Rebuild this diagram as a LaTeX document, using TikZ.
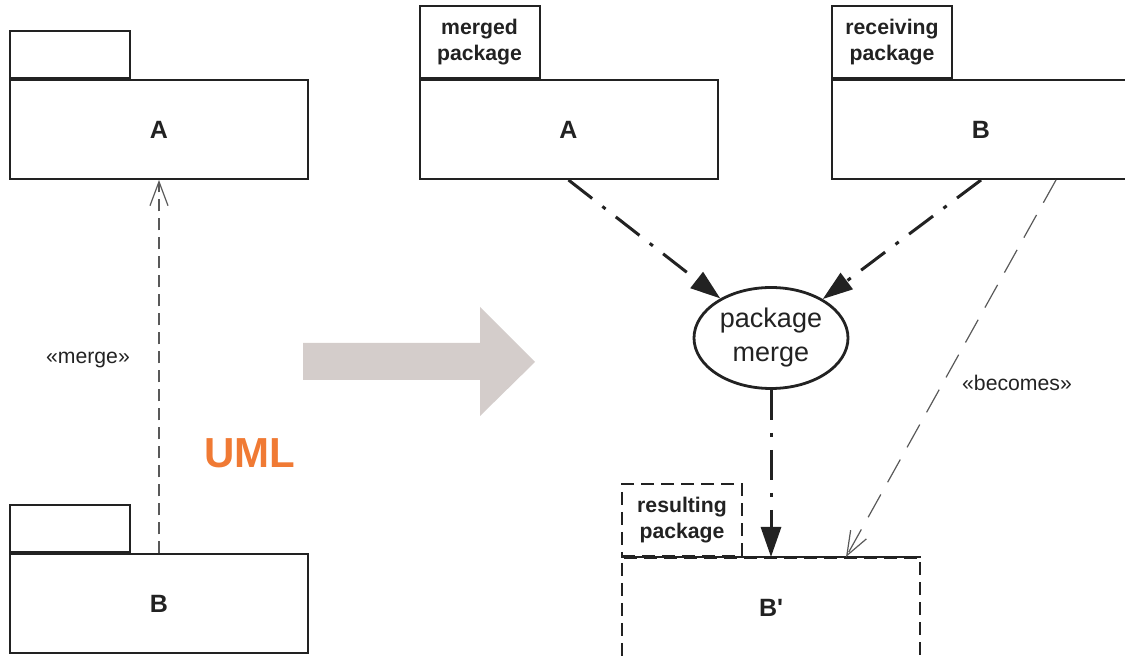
\documentclass[tikz,border=0pt]{standalone}
\usepackage{fontspec}
\setmainfont{Liberation Sans}
\usetikzlibrary{calc,arrows.meta,shapes.geometric,positioning}
\definecolor{ink}{RGB}{34,34,34}
\definecolor{umlorange}{RGB}{240,122,52}
\definecolor{bigarrow}{RGB}{212,205,203}

\begin{document}
\begin{tikzpicture}[x=0.5pt,y=-0.5pt,
    pkg/.style={draw=ink,line width=1pt,minimum width=149pt,minimum height=49.5pt,inner sep=0pt,
      text=ink,font=\bfseries\fontsize{12.5}{15}\selectfont},
    pkgtab/.style={draw=ink,line width=1pt,minimum width=60pt,inner sep=0pt,anchor=south west,
      align=center,text=ink,font=\bfseries\fontsize{10.6}{13}\selectfont},
    pkgdash/.style={dash pattern=on 6.5pt off 3.5pt},
    flow/.style={draw=ink,line width=1.5pt,dash pattern=on 15pt off 6.5pt on 2pt off 6.5pt,
      -{Triangle[length=15pt,width=10pt]}},
    dep/.style={draw=ink!75,line width=0.6pt,dash pattern=on 6pt off 3.5pt,
      -{Straight Barb[length=12pt,width=9pt]}},
    stereo/.style={text=ink,font=\fontsize{10.6}{12}\selectfont}]
    \useasboundingbox (0,0) rectangle (1125,656);

    % left side: plain UML notation
    \node[pkg] (A) at (159,129.5) {A};
    \node[pkgtab,minimum height=23.5pt] (At) at (A.north west) {};
    \node[pkg] (B) at (159,604) {B};
    \node[pkgtab,minimum height=23.5pt] (Bt) at (B.north west) {};
    \draw[dep] (B.north) -- (A.south);
    \node[stereo] (mlab) at (88,360) {«merge»};
    \node[text=umlorange,font=\bfseries\fontsize{21}{25}\selectfont] (uml) at (250,453) {UML};

    % big arrow
    \fill[bigarrow] (303,343) -- (480,343) -- (480,307) -- (535,362) -- (480,416)
      -- (480,380) -- (303,380) -- cycle;

    % right side: what the merge does
    \node[pkg] (mA) at (568.5,129.5) {A};
    \node[pkgtab,minimum height=36pt] (mAt) at (mA.north west) {merged\\package};
    \node[pkg] (rB) at (981,129.5) {B};
    \node[pkgtab,minimum height=36pt] (rBt) at (rB.north west) {receiving\\package};
    \node[ellipse,draw=ink,line width=1.4pt,minimum width=77pt,minimum height=50.5pt,inner sep=0pt,
      align=center,text=ink,font=\fontsize{13.5}{17}\selectfont] (pm) at (771,338) {package\\merge};
    \node[pkg,pkgdash] (Bp) at (771,607.5) {B\textquotesingle};
    \draw[ink,line width=1pt] (Bp.north west) -- (Bp.north east);
    \node[pkgtab,pkgdash,minimum height=36pt] (Bpt) at (Bp.north west) {resulting\\package};

    \draw[flow] (mA.south) -- (pm);
    \draw[flow] (rB.south) -- (pm);
    \draw[flow] (pm) -- (Bp.north);
    \draw[dep,dash pattern=on 13pt off 7pt] ($(rB.south west)!0.75!(rB.south east)$)
      -- ($(Bp.north west)!0.75!(Bp.north east)$);
    \node[stereo] (blab) at (1017,383) {«becomes»};
  \end{tikzpicture}
\end{document}
